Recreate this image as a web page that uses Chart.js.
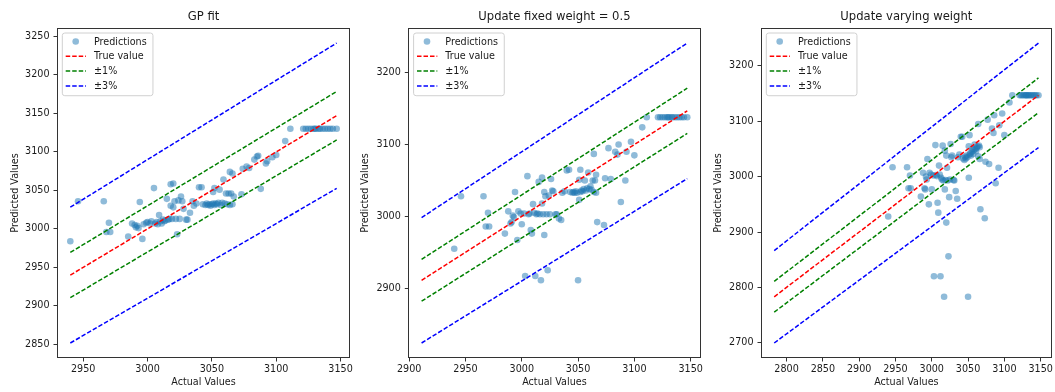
<!DOCTYPE html>
<html><head><meta charset="utf-8">
<script src="https://cdn.jsdelivr.net/npm/chart.js@4.4.1/dist/chart.umd.min.js"></script>
<style>
html,body{margin:0;padding:0;background:#fff;}
#wrap{position:relative;width:1055px;height:392px;overflow:hidden;background:#fff;}
.pan{position:absolute;top:0;height:392px;}
canvas{display:block;}
</style></head><body>
<div id="wrap">
<div class="pan" style="left:0;width:355px"><canvas id="c1" width="355" height="392"></canvas></div>
<div class="pan" style="left:355px;width:350px"><canvas id="c2" width="350" height="392"></canvas></div>
<div class="pan" style="left:705px;width:350px"><canvas id="c3" width="350" height="392"></canvas></div>
</div>
<script>
// ---- data ----
const actualValues = [2940,2946,2966,2968,2970,2971,2985,2988,2990,2991,2992,2993,2994,2996,2997,2999,3000,3002,3003,3005,
3006,3007,3008,3009,3010,3011,3012,3013,3014,3015,3016,3017,3018,3018,3019,3020,3020,3021,3022,3023,
3024,3025,3026,3027,3028,3030,3031,3033,3035,3036,3038,3040,3042,3043,3045,3046,3047,3048,3049,3050,
3051,3051,3052,3052,3053,3054,3055,3056,3057,3058,3059,3060,3061,3062,3063,3064,3064,3065,3066,3066,
3067,3073,3074,3077,3079,3083,3085,3086,3088,3092,3093,3097,3100,3107,
3111,3121,3123,3125,3127,3129,3130,3131,3133,3134,3136,3138,3140,3142,3144,3147];
const gpFitPred = [2984,3036,3036,2996,3008,2996,2990,3007,3005,3002,3004,3001,3035,2987,3006,3008,3009,3007,3010,3053,
3007,3009,3006,3018,3010,3007,3012,3010,3011,3039,3012,3013,3058,3030,3013,3028,3059,3036,3013,2993,
3037,3013,3042,3036,3026,3012,3012,3021,3036,3030,3033,3054,3054,3032,3031,3033,3031,3032,3030,3032,
3033,3048,3053,3031,3033,3032,3034,3051,3031,3034,3064,3033,3046,3032,3046,3074,3031,3046,3072,3032,
3042,3045,3078,3081,3079,3090,3094,3095,3052,3085,3088,3093,3096,3114,
3130,3130,3130,3130,3130,3130,3130,3130,3130,3130,3130,3130,3130,3130,3130,3130];
const fixedWeightPred = [2955,3028,3028,2986,3005,2986,2976,3007,2990,2992,3001,2999,3034,2967,3007,3004,2989,3004,2917,3056,
3003,3004,2981,2976,3017,3005,2917,3003,3004,3048,3003,2911,3054,3018,3003,2974,3034,3028,3003,2925,
3029,3003,3052,3036,3035,3003,3003,2997,2995,3033,3035,3064,3065,3034,3033,3034,3033,3035,3033,2911,
3023,3051,3065,3034,3036,3035,3038,3050,3036,3039,3061,3038,3042,3037,3050,3087,3034,3050,3058,3033,
2992,2988,3053,3095,3052,3090,3086,3100,3020,3050,3090,3104,3085,3124,
3138,3138,3138,3138,3138,3138,3138,3138,3138,3138,3138,3138,3138,3138,3138,3138];
const varyingWeightPred = [2928,3017,3017,2979,3002,2979,2964,3007,2979,2977,3000,2995,3032,2950,3007,3004,2977,3002,2820,3057,
3003,3001,2953,2935,3020,3004,2820,2998,2995,3056,2993,2783,3047,2977,2994,2917,3038,3016,2993,2856,
2963,2995,3059,3035,3038,2994,2993,2974,2960,3035,3040,3072,3072,3033,3030,3036,3033,3038,3035,2783,
2998,3055,3075,3040,3042,3038,3045,3050,3041,3048,3058,3050,3046,3052,3055,3095,3037,3056,3053,3032,
2941,2925,3027,3103,3023,3087,3079,3111,2988,3016,3093,3114,3075,3134,
3147,3147,3147,3147,3147,3147,3147,3147,3147,3147,3147,3147,3147,3147,3147,3147];
const panelTitles = ['GP fit', 'Update fixed weight = 0.5', 'Update varying weight'];
const xTicksGP = [2950, 3000, 3050, 3100, 3150];
const yTicksGP = [2850, 2900, 2950, 3000, 3050, 3100, 3150, 3200, 3250];
const xTicksFixed = [2900, 2950, 3000, 3050, 3100, 3150];
const yTicksFixed = [2900, 3000, 3100, 3200];
const xTicksVarying = [2800, 2850, 2900, 2950, 3000, 3050, 3100, 3150];
const yTicksVarying = [2700, 2800, 2900, 3000, 3100, 3200];
const bandFactors = {trueValue: 1, onePct: 0.01, threePct: 0.03};

// ---- helpers ----
const FONT = '"DejaVu Sans", "Liberation Sans", sans-serif';
const TXT = '#1a1a1a';

function drawFrameAndLegend(chart, datasets) {
  const {ctx, chartArea: a} = chart;
  ctx.save();
  ctx.strokeStyle = '#333';
  ctx.lineWidth = 1;
  const L = Math.round(a.left) + 0.5, T = Math.round(a.top) + 0.5;
  const R = Math.round(a.right) - 0.5, B = Math.round(a.bottom) - 0.5;
  ctx.strokeRect(L, T, R - L, B - T);
  const fs = 9.6;
  ctx.font = fs + 'px ' + FONT;
  const tw = Math.max(...datasets.map(d => ctx.measureText(d.label).width));
  const fx = a.left + 5.3, fy = a.top + 5;
  const fw = 32 + tw + 6, fh = 62.7, r = 2.5;
  ctx.beginPath();
  ctx.moveTo(fx + r, fy);
  ctx.arcTo(fx + fw, fy, fx + fw, fy + fh, r);
  ctx.arcTo(fx + fw, fy + fh, fx, fy + fh, r);
  ctx.arcTo(fx, fy + fh, fx, fy, r);
  ctx.arcTo(fx, fy, fx + fw, fy, r);
  ctx.closePath();
  ctx.fillStyle = 'rgba(255,255,255,0.8)';
  ctx.fill();
  ctx.strokeStyle = '#d0d0d0';
  ctx.stroke();
  datasets.forEach((d, i) => {
    const cy = a.top + 13.5 + i * 14.8;
    if (d.isMarker) {
      ctx.beginPath();
      ctx.arc(a.left + 18.7, cy, 3.3, 0, Math.PI * 2);
      ctx.fillStyle = d.backgroundColor;
      ctx.fill();
    } else {
      ctx.beginPath();
      ctx.setLineDash(d.borderDash);
      ctx.strokeStyle = d.borderColor;
      ctx.lineWidth = d.borderWidth;
      ctx.moveTo(a.left + 8.7, cy);
      ctx.lineTo(a.left + 29, cy);
      ctx.stroke();
      ctx.setLineDash([]);
    }
    ctx.fillStyle = TXT;
    ctx.textBaseline = 'middle';
    ctx.textAlign = 'left';
    ctx.fillText(d.label, a.left + 37, cy + 0.5);
  });
  ctx.restore();
}

function padRange(lo, hi) {
  const m = (hi - lo) * 0.05;
  return [lo - m, hi + m];
}

function makePanel(canvasId, title, preds, xTicks, yTicks, geo) {
  const all = actualValues.concat(preds);
  const lo = Math.min(...all), hi = Math.max(...all);
  const lineData = k => [{x: lo, y: lo * k}, {x: hi, y: hi * k}];
  const [xmin, xmax] = padRange(lo, hi);
  const [ymin, ymax] = padRange(lo * (1 - bandFactors.threePct), hi * (1 + bandFactors.threePct));
  const dash = [4.5, 2];
  const lw = 1.5;
  const datasets = [
    {label: 'Predictions', isMarker: true,
     data: actualValues.map((v, i) => ({x: v, y: preds[i]})),
     backgroundColor: 'rgba(31,119,180,0.5)', borderWidth: 0, pointRadius: 3.3, pointHoverRadius: 3.3, order: 4},
    {label: 'True value', data: lineData(bandFactors.trueValue), showLine: true, borderColor: '#ff0000',
     borderDash: dash, borderWidth: lw, pointRadius: 0, order: 3},
    {label: '\u00b11%', data: lineData(1 + bandFactors.onePct), showLine: true, borderColor: '#008000',
     borderDash: dash, borderWidth: lw, pointRadius: 0, order: 2},
    {label: '\u00b11%', data: lineData(1 - bandFactors.onePct), showLine: true, borderColor: '#008000',
     borderDash: dash, borderWidth: lw, pointRadius: 0, order: 2, noLegend: true},
    {label: '\u00b13%', data: lineData(1 + bandFactors.threePct), showLine: true, borderColor: '#0000ff',
     borderDash: dash, borderWidth: lw, pointRadius: 0, order: 1},
    {label: '\u00b13%', data: lineData(1 - bandFactors.threePct), showLine: true, borderColor: '#0000ff',
     borderDash: dash, borderWidth: lw, pointRadius: 0, order: 1, noLegend: true}
  ];
  return new Chart(document.getElementById(canvasId), {
    type: 'scatter',
    data: {datasets},
    options: {
      responsive: false,
      animation: false,
      events: [],
      layout: {padding: {left: 0, right: geo.padRight, top: 0, bottom: 0}},
      plugins: {
        legend: {display: false},
        tooltip: {enabled: false},
        title: {display: true, text: title, fullSize: false, color: TXT,
                font: {family: FONT, size: 11.6, weight: 'normal'}, padding: {top: 10.3, bottom: 3.8}}
      },
      scales: {
        x: {
          type: 'linear', min: xmin, max: xmax,
          afterBuildTicks: ax => { ax.ticks = xTicks.map(v => ({value: v})); },
          afterFit: ax => { ax.height = 34; },
          ticks: {callback: v => String(v), color: TXT, padding: 2, maxRotation: 0, autoSkip: false,
                  font: {family: FONT, size: 9.6}},
          grid: {display: true, drawOnChartArea: false, drawTicks: true, tickLength: 3.5, color: '#333', tickWidth: 1},
          border: {display: false},
          title: {display: true, text: 'Actual Values', color: TXT, font: {family: FONT, size: 9.6},
                  padding: {top: 0, bottom: 3.9}}
        },
        y: {
          type: 'linear', min: ymin, max: ymax,
          afterBuildTicks: ax => { ax.ticks = yTicks.map(v => ({value: v})); },
          afterFit: ax => { ax.width = geo.yWidth; },
          ticks: {callback: v => String(v), color: TXT, padding: 4, autoSkip: false,
                  font: {family: FONT, size: 9.6}},
          grid: {display: true, drawOnChartArea: false, drawTicks: true, tickLength: 3.5, color: '#333', tickWidth: 1},
          border: {display: false},
          title: {display: true, text: 'Predicted Values', color: TXT, font: {family: FONT, size: 9.6},
                  padding: {top: geo.yTitlePad, bottom: 0}}
        }
      }
    },
    plugins: [{
      id: 'frameLegend',
      afterDraw(c) {
        drawFrameAndLegend(c, c.data.datasets.filter(d => !d.noLegend));
      }
    }]
  });
}

makePanel('c1', panelTitles[0], gpFitPred, xTicksGP, yTicksGP, {yWidth: 57, padRight: 5, yTitlePad: 9.6});
makePanel('c2', panelTitles[1], fixedWeightPred, xTicksFixed, yTicksFixed, {yWidth: 53.3, padRight: 2.7, yTitlePad: 5.2});
makePanel('c3', panelTitles[2], varyingWeightPred, xTicksVarying, yTicksVarying, {yWidth: 56, padRight: 0.7, yTitlePad: 7.5});
</script>
</body></html>
